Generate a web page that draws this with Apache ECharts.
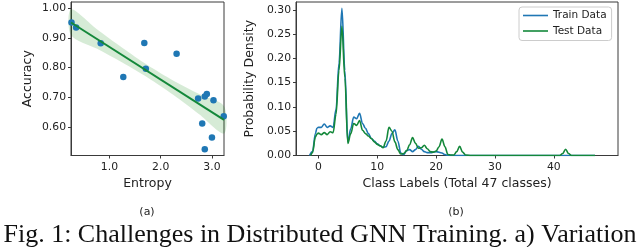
<!DOCTYPE html>
<html>
<head>
<meta charset="utf-8">
<script src="https://cdn.jsdelivr.net/npm/echarts@6/dist/echarts.min.js"></script>
<style>
html,body{margin:0;padding:0;background:#fff;}
#chart{width:640px;height:247px;}
</style>
</head>
<body>
<div id="chart"></div>
<script>
// ---- Panel (a): Entropy vs Accuracy ----
const entropyX = [0.26, 0.35, 0.83, 1.27, 1.68, 1.71, 2.31, 2.73, 2.86, 2.90, 3.03, 2.81, 3.00, 2.86, 3.23];
const accuracyY = [0.952, 0.935, 0.882, 0.768, 0.883, 0.796, 0.847, 0.696, 0.703, 0.711, 0.690, 0.612, 0.565, 0.525, 0.636];
const fitX = [0.25, 3.235];
const fitY = [0.952, 0.624];
const bandX = [0.25, 0.75, 1.25, 1.75, 2.25, 2.75, 3.235];
const bandLow = [0.910, 0.864, 0.817, 0.766, 0.708, 0.643, 0.578];
const bandHigh = [0.996, 0.930, 0.867, 0.808, 0.756, 0.711, 0.670];
const accTicks = [0.60, 0.70, 0.80, 0.90, 1.00];
const entTicks = [1.0, 2.0, 3.0];

// ---- Panel (b): class label densities ----
const trainX = [-1.5, -1, -0.5, -0.25, 0, 0.5, 1, 1.5, 2, 2.5, 3, 3.5, 4, 4.5, 5, 5.5, 6, 6.5, 7, 7.5, 8, 8.5, 9, 9.5, 10, 10.5, 11, 11.5, 12, 12.5, 13, 13.5, 14, 14.5, 15, 15.5, 16, 16.5, 17, 17.5, 18, 18.5, 19, 20, 21, 21.5, 22, 23, 30, 40, 47];
const trainY = [0, 0.008, 0.045, 0.056, 0.058, 0.058, 0.065, 0.058, 0.061, 0.058, 0.095, 0.19, 0.303, 0.175, 0.028, 0.055, 0.079, 0.076, 0.087, 0.066, 0.056, 0.045, 0.035, 0.030, 0.024, 0.020, 0.017, 0.018, 0.030, 0.045, 0.053, 0.030, 0.005, 0.002, 0.010, 0.012, 0.008, 0.012, 0.019, 0.013, 0.008, 0.006, 0.006, 0.008, 0.005, 0.002, 0.0005, 0, 0, 0, 0];
const testX = [-1.3, -1, -0.5, -0.25, 0, 0.5, 1, 1.5, 2, 2.5, 3, 3.5, 4, 4.5, 5, 5.5, 6, 6.5, 7, 7.5, 8, 8.5, 9, 9.5, 10, 10.5, 11, 11.5, 12, 12.5, 13, 13.5, 14, 14.5, 15, 15.5, 16, 16.5, 17, 17.5, 18, 18.5, 19, 19.5, 20, 20.5, 21, 21.5, 22, 22.5, 23, 23.5, 24, 24.5, 25, 26, 35, 41, 41.5, 42, 42.5, 43, 47];
const testY = [0, 0.006, 0.038, 0.044, 0.046, 0.043, 0.047, 0.043, 0.049, 0.047, 0.085, 0.175, 0.266, 0.16, 0.025, 0.045, 0.066, 0.062, 0.072, 0.052, 0.045, 0.040, 0.035, 0.028, 0.023, 0.020, 0.016, 0.030, 0.058, 0.050, 0.028, 0.012, 0.003, 0.004, 0.010, 0.022, 0.037, 0.025, 0.015, 0.016, 0.021, 0.014, 0.008, 0.007, 0.009, 0.018, 0.034, 0.018, 0.002, 0.001, 0.001, 0.008, 0.019, 0.007, 0.001, 0, 0, 0, 0.004, 0.013, 0.004, 0, 0];
const densTicks = [0.00, 0.05, 0.10, 0.15, 0.20, 0.25, 0.30];
const classTicks = [0, 10, 20, 30, 40];
const seriesNames = ['Train Data', 'Test Data'];

const BLUE = '#1f77b4';
const GREEN = '#14883a';
const SPINE = '#3a3a3a';
const TXT = '#222';
const FONT = 'DejaVu Sans';

function zip(a, b) { return a.map((v, i) => [v, b[i]]); }

function valueAxis(extra) {
  return Object.assign({
    type: 'value',
    scale: true,
    splitLine: { show: false },
    axisLine: { show: true, onZero: false, lineStyle: { color: SPINE, width: 1 } },
    axisTick: { show: true, inside: false, length: 3, lineStyle: { color: SPINE, width: 1 } },
    axisLabel: { color: TXT, fontFamily: FONT, fontSize: 10.8 },
    nameTextStyle: { color: TXT, fontFamily: FONT, fontSize: 12.5 },
    nameLocation: 'middle'
  }, extra);
}

const chart = echarts.init(document.getElementById('chart'), null, { renderer: 'canvas' });

const option = {
  animation: false,
  backgroundColor: '#fff',
  grid: [
    { left: 71, top: 2, width: 153, height: 153.5, show: true, borderColor: SPINE, borderWidth: 1, backgroundColor: 'transparent' },
    { left: 296, top: 2, width: 322, height: 153.5, show: true, borderColor: SPINE, borderWidth: 1, backgroundColor: 'transparent' }
  ],
  xAxis: [
    valueAxis({
      gridIndex: 0, min: 0.25, max: 3.235, name: 'Entropy', nameGap: 22,
      axisTick: { show: true, length: 3, customValues: entTicks, lineStyle: { color: SPINE } },
      axisLabel: { color: TXT, fontFamily: FONT, fontSize: 10.8, margin: 6, customValues: entTicks, formatter: v => v.toFixed(1) }
    }),
    valueAxis({
      gridIndex: 1, min: -3.8, max: 50.9, name: 'Class Labels (Total 47 classes)', nameGap: 22,
      axisTick: { show: true, length: 3, customValues: classTicks, lineStyle: { color: SPINE } },
      axisLabel: { color: TXT, fontFamily: FONT, fontSize: 10.8, margin: 6, customValues: classTicks, formatter: v => String(v) }
    })
  ],
  yAxis: [
    valueAxis({
      gridIndex: 0, min: 0.504, max: 1.021, name: 'Accuracy', nameGap: 37,
      axisTick: { show: true, length: 3, customValues: accTicks, lineStyle: { color: SPINE } },
      axisLabel: { color: TXT, fontFamily: FONT, fontSize: 10.8, margin: 5, customValues: accTicks, formatter: v => v.toFixed(2) }
    }),
    valueAxis({
      gridIndex: 1, min: 0, max: 0.316, name: 'Probability Density', nameGap: 37,
      axisTick: { show: true, length: 3, customValues: densTicks, lineStyle: { color: SPINE } },
      axisLabel: { color: TXT, fontFamily: FONT, fontSize: 10.8, margin: 5, customValues: densTicks, formatter: v => v.toFixed(2) }
    })
  ],
  legend: {
    data: seriesNames,
    orient: 'vertical',
    left: 519, top: 7,
    itemWidth: 25, itemHeight: 13, itemGap: 2.5,
    padding: [2, 5, 3, 4],
    borderColor: '#cccccc', borderWidth: 1, borderRadius: 3,
    backgroundColor: '#fff',
    icon: 'path://M0,5 L25,5 L25,6.6 L0,6.6 Z',
    textStyle: { color: TXT, fontFamily: FONT, fontSize: 10.5, lineHeight: 13 }
  },
  graphic: [
    { type: 'text', style: { text: '(a)', x: 147, y: 212, align: 'center', verticalAlign: 'middle', fill: TXT, font: '11px "DejaVu Sans"' } },
    { type: 'text', style: { text: '(b)', x: 456, y: 212, align: 'center', verticalAlign: 'middle', fill: TXT, font: '11px "DejaVu Sans"' } },
    { type: 'text', style: { text: 'Fig. 1: Challenges in Distributed GNN Training. a) Variation', x: 320, y: 235, align: 'center', verticalAlign: 'middle', fill: '#111', font: '26px "Liberation Serif"' } }
  ],
  series: [
    {
      type: 'custom', xAxisIndex: 0, yAxisIndex: 0, silent: true, z: 1,
      data: [[bandX[0], bandLow[0]]],
      renderItem: function (params, api) {
        const pts = [];
        for (let i = 0; i < bandX.length; i++) pts.push(api.coord([bandX[i], bandHigh[i]]));
        for (let i = bandX.length - 1; i >= 0; i--) pts.push(api.coord([bandX[i], bandLow[i]]));
        return { type: 'polygon', shape: { points: pts, smooth: 0.3 }, style: { fill: 'rgba(0,128,0,0.16)' } };
      }
    },
    {
      type: 'scatter', xAxisIndex: 0, yAxisIndex: 0, z: 2,
      data: zip(entropyX, accuracyY), symbolSize: 6.5,
      itemStyle: { color: BLUE, opacity: 1 }
    },
    {
      type: 'line', xAxisIndex: 0, yAxisIndex: 0, z: 3,
      data: zip(fitX, fitY), symbol: 'none', clip: true,
      lineStyle: { color: GREEN, width: 2 }
    },
    {
      name: seriesNames[0], type: 'line', xAxisIndex: 1, yAxisIndex: 1, z: 3,
      data: zip(trainX, trainY), symbol: 'none', smooth: 0.35, smoothMonotone: 'x',
      lineStyle: { color: BLUE, width: 1.6 }, itemStyle: { color: BLUE }
    },
    {
      name: seriesNames[1], type: 'line', xAxisIndex: 1, yAxisIndex: 1, z: 4,
      data: zip(testX, testY), symbol: 'none', smooth: 0.35, smoothMonotone: 'x',
      lineStyle: { color: GREEN, width: 1.6 }, itemStyle: { color: GREEN }
    }
  ]
};
chart.setOption(option);
</script>
</body>
</html>
